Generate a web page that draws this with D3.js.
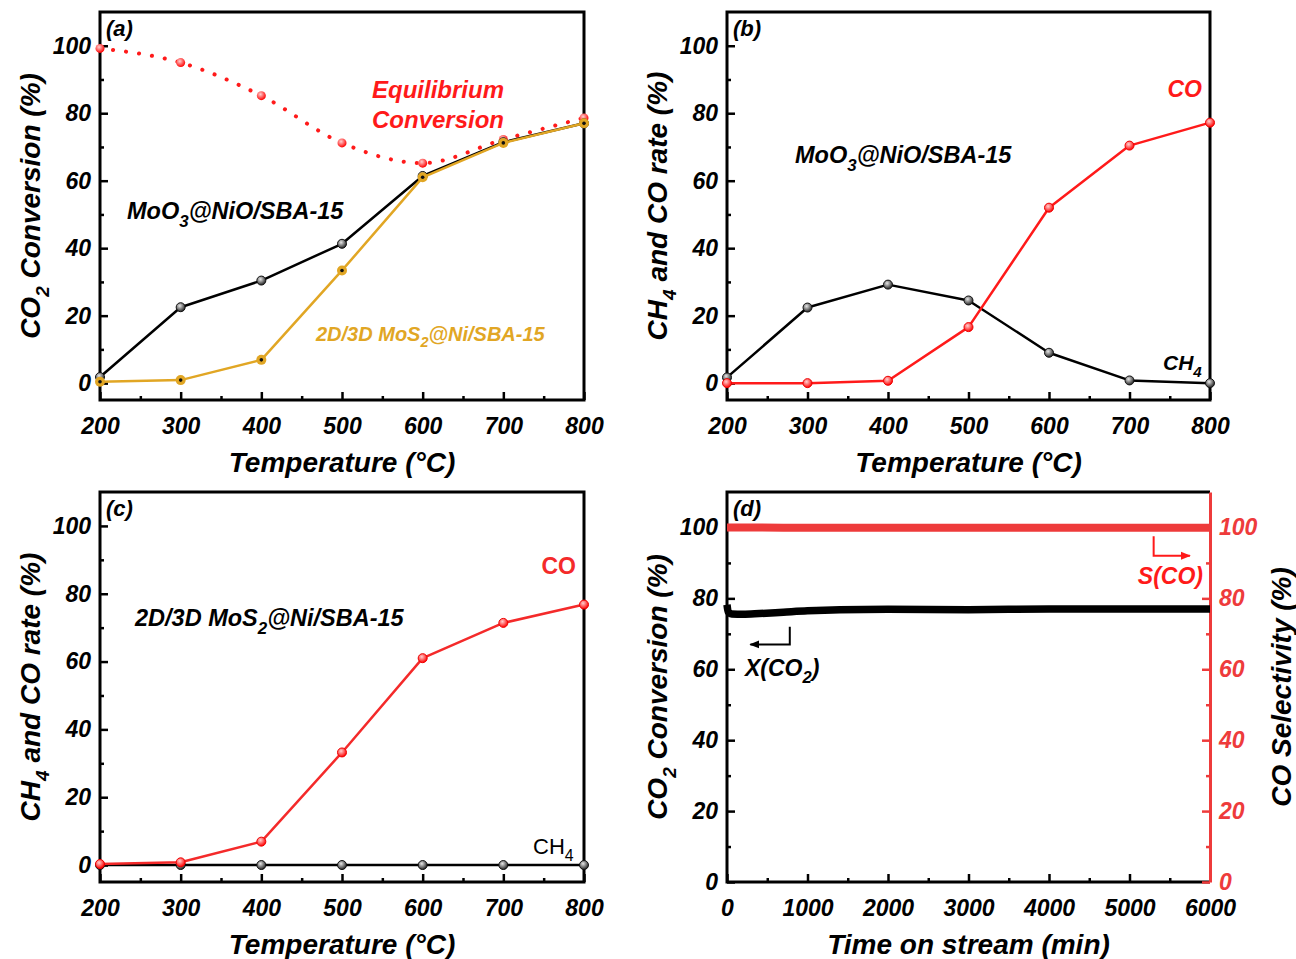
<!DOCTYPE html>
<html>
<head>
<meta charset="utf-8">
<script src="https://cdn.jsdelivr.net/npm/d3@7"></script>
<style>
  body { margin: 0; background: #fff; }
  text { font-family: "Liberation Sans", Arial, sans-serif; }
</style>
</head>
<body>
<div id="fig"></div>
<script>
// ---- data ----
const temps = [200, 300, 400, 500, 600, 700, 800];

// (a) CO2 conversion
const equilibrium = [99.2, 95, 85.2, 71.2, 65.2, 72.2, 78.6];
const moo3Conv = [1.8, 22.5, 30.4, 41.3, 61.4, 71.4, 77];
const mos2Conv = [0.4, 0.9, 6.9, 33.4, 61, 71.2, 77];

// (b) MoO3@NiO/SBA-15 rates
const moo3CH4 = [1.7, 22.4, 29.2, 24.5, 9, 0.8, 0];
const moo3CO = [0, 0, 0.7, 16.6, 52, 70.4, 77.2];

// (c) 2D/3D MoS2@Ni/SBA-15 rates
const mos2CO = [0.3, 0.8, 6.9, 33.2, 61, 71.4, 76.8];
const mos2CH4 = [0, 0, 0, 0, 0, 0, 0];

// (d) stability test
const tos = [0, 15, 60, 200, 400, 700, 1000, 1400, 2000, 3000, 4000, 5000, 6000];
const xCO2 = [78.2, 76.2, 75.6, 75.5, 75.7, 76.1, 76.5, 76.8, 76.9, 76.8, 77, 77, 77];
const sCO = [100, 100, 100, 100, 100, 99.9, 99.9, 99.9, 99.9, 99.9, 99.9, 99.9, 99.9];

const yTicks = [0, 20, 40, 60, 80, 100];
const tempTicks = [200, 300, 400, 500, 600, 700, 800];
const timeTicks = [0, 1000, 2000, 3000, 4000, 5000, 6000];

const RED = "#ff1a1a";
const ORANGE = "#e1a624";
const TICK_FS = 23, TITLE_FS = 28;

const svg = d3.select("#fig").append("svg")
    .attr("width", 1296).attr("height", 959);

// gradients for the ball-like markers
const defs = svg.append("defs");
function ball(id, c0, c1){
    const g = defs.append("radialGradient").attr("id", id)
        .attr("cx", "40%").attr("cy", "35%").attr("r", "65%");
    g.append("stop").attr("offset", "0%").attr("stop-color", c0);
    g.append("stop").attr("offset", "100%").attr("stop-color", c1);
}
ball("ballK", "#e8e8e8", "#222");
ball("ballR", "#ffd0d0", "#ff0000");

// text with subscripts: parts = [[str, isSub], ...]
function rich(sel, parts, subSize){
    parts.forEach(([s, sub], i) => {
        const t = sel.append("tspan").text(s);
        if (sub) t.attr("dy", subSize * 0.45).attr("font-size", subSize);
        else if (i > 0 && parts[i-1][1]) t.attr("dy", -subSize * 0.45);
    });
    return sel;
}

function styleTicks(a, color){
    a.selectAll("text").attr("font-size", TICK_FS).attr("font-weight", "bold")
        .attr("font-style", "italic").attr("fill", color || "#000");
}

function panel(o){
    const g = svg.append("g");
    const x = d3.scaleLinear().domain(o.xDomain).range([o.left, o.right]);
    const y = d3.scaleLinear().domain(o.yDomain).range([o.bottom, o.top]);

    // minor ticks (inward)
    const minorX = d3.range(o.xDomain[0] + o.xStep/2, o.xDomain[1], o.xStep);
    const minorY = d3.range(o.yTicks[0] + 10, o.yDomain[1], 20);

    g.append("g").attr("transform", `translate(0,${o.bottom})`)
        .call(d3.axisBottom(x).tickValues(o.xTicks).tickFormat(d3.format("d"))
            .tickSizeInner(-8).tickSizeOuter(0).tickPadding(12))
        .call(a => a.select(".domain").remove())
        .call(a => a.selectAll("line").attr("stroke-width", 2.5))
        .call(a => styleTicks(a))
        .call(a => a.selectAll("text").attr("dy", "0.95em"));
    g.append("g").attr("transform", `translate(0,${o.bottom})`)
        .call(d3.axisBottom(x).tickValues(minorX).tickSizeInner(-4).tickSizeOuter(0).tickFormat(""))
        .call(a => a.select(".domain").remove())
        .call(a => a.selectAll("line").attr("stroke-width", 2.5));

    g.append("g").attr("transform", `translate(${o.left},0)`)
        .call(d3.axisLeft(y).tickValues(o.yTicks).tickSizeInner(-8).tickSizeOuter(0).tickPadding(9))
        .call(a => a.select(".domain").remove())
        .call(a => a.selectAll("line").attr("stroke-width", 2.5))
        .call(a => styleTicks(a));
    g.append("g").attr("transform", `translate(${o.left},0)`)
        .call(d3.axisLeft(y).tickValues(minorY).tickSizeInner(-4).tickSizeOuter(0).tickFormat(""))
        .call(a => a.select(".domain").remove())
        .call(a => a.selectAll("line").attr("stroke-width", 2.5));

    // frame
    g.append("path")
        .attr("d", `M${o.right},${o.top}H${o.left}V${o.bottom}H${o.right}` + (o.rightAxis ? "" : "Z"))
        .attr("fill", "none").attr("stroke", "#000").attr("stroke-width", 3);

    // titles
    g.append("text").attr("x", (o.left + o.right)/2).attr("y", o.bottom + 72)
        .attr("text-anchor", "middle").attr("font-size", TITLE_FS).attr("font-weight", "bold")
        .attr("font-style", "italic").text(o.xTitle);
    const yt = g.append("text")
        .attr("transform", `translate(${o.left - 60},${(o.top + o.bottom)/2}) rotate(-90)`)
        .attr("text-anchor", "middle").attr("font-size", TITLE_FS).attr("font-weight", "bold")
        .attr("font-style", "italic");
    rich(yt, o.yTitle, 19);

    g.append("text").attr("x", o.left + 6).attr("y", o.top + 24)
        .attr("font-family", "Liberation Serif, Times New Roman, serif")
        .attr("font-size", 22).attr("font-weight", "bold").attr("font-style", "italic")
        .text(o.tag);

    return {g, x, y};
}

function series(p, xs, ys, color, opts = {}){
    const pts = xs.map((d, i) => [d, ys[i]]);
    const line = d3.line().x(d => p.x(d[0])).y(d => p.y(d[1]));
    if (opts.curve) line.curve(opts.curve);
    const path = p.g.append("path").datum(pts)
        .attr("fill", "none").attr("stroke", color)
        .attr("stroke-width", opts.width || 2.5)
        .attr("stroke-linejoin", "round")
        .attr("d", line);
    if (opts.dash) path.attr("stroke-dasharray", opts.dash).attr("stroke-linecap", "round");
    if (opts.marker === "ballK" || opts.marker === "ballR") {
        p.g.selectAll(null).data(pts).join("circle")
            .attr("cx", d => p.x(d[0])).attr("cy", d => p.y(d[1])).attr("r", opts.r || 4.5)
            .attr("fill", `url(#${opts.marker})`)
            .attr("stroke", opts.marker === "ballK" ? "#111" : "#e00").attr("stroke-width", 1);
    } else if (opts.marker === "dot") {
        p.g.selectAll(null).data(pts).join("circle")
            .attr("cx", d => p.x(d[0])).attr("cy", d => p.y(d[1])).attr("r", 5)
            .attr("fill", color);
        p.g.selectAll(null).data(pts).join("circle")
            .attr("cx", d => p.x(d[0])).attr("cy", d => p.y(d[1])).attr("r", 1.8)
            .attr("fill", "#111");
    }
}

function label(p, xp, yp, parts, color, size, opts = {}){
    const t = p.g.append("text").attr("x", xp).attr("y", yp)
        .attr("font-size", size).attr("font-weight", opts.weight || "bold")
        .attr("font-style", opts.style || "italic").attr("fill", color)
        .attr("text-anchor", opts.anchor || "start");
    rich(t, parts, size * 0.72);
    return t;
}

const tempX = {xDomain: [200, 800], xTicks: tempTicks, xStep: 100, yDomain: [-5, 110], yTicks: yTicks,
    xTitle: "Temperature (°C)"};

// ---- (a) ----
const pa = panel(Object.assign({}, tempX, {left: 100, right: 584, top: 12, bottom: 400, tag: "(a)",
    yTitle: [["CO", 0], ["2", 1], [" Conversion (%)", 0]]}));
series(pa, temps, equilibrium, RED, {curve: d3.curveMonotoneX, dash: "0.1 13", width: 4});
pa.g.selectAll(null).data(temps).join("circle")
    .attr("cx", d => pa.x(d)).attr("cy", (d, i) => pa.y(equilibrium[i])).attr("r", 4.5)
    .attr("fill", "url(#ballR)");
series(pa, temps, moo3Conv, "#000", {marker: "ballK"});
series(pa, temps, mos2Conv, ORANGE, {marker: "dot"});
label(pa, 438, 98, [["Equilibrium", 0]], RED, 24, {anchor: "middle"});
label(pa, 438, 128, [["Conversion", 0]], RED, 24, {anchor: "middle"});
label(pa, 127, 219, [["MoO", 0], ["3", 1], ["@NiO/SBA-15", 0]], "#000", 23.5);
label(pa, 316, 341, [["2D/3D MoS", 0], ["2", 1], ["@Ni/SBA-15", 0]], ORANGE, 20);

// ---- (b) ----
const pb = panel(Object.assign({}, tempX, {left: 727, right: 1210, top: 12, bottom: 400, tag: "(b)",
    yTitle: [["CH", 0], ["4", 1], [" and CO rate (%)", 0]]}));
series(pb, temps, moo3CH4, "#000", {marker: "ballK"});
series(pb, temps, moo3CO, RED, {marker: "ballR"});
label(pb, 1202, 97, [["CO", 0]], RED, 23, {anchor: "end"});
label(pb, 795, 163, [["MoO", 0], ["3", 1], ["@NiO/SBA-15", 0]], "#000", 23.5);
label(pb, 1163, 370, [["CH", 0], ["4", 1]], "#000", 21);

// ---- (c) ----
const pc = panel(Object.assign({}, tempX, {left: 100, right: 584, top: 492, bottom: 882, tag: "(c)",
    yTitle: [["CH", 0], ["4", 1], [" and CO rate (%)", 0]]}));
series(pc, temps, mos2CH4, "#000", {marker: "ballK"});
series(pc, temps, mos2CO, "#f42a2a", {marker: "ballR"});
label(pc, 576, 574, [["CO", 0]], "#f42a2a", 23, {anchor: "end", style: "normal"});
label(pc, 135, 626, [["2D/3D MoS", 0], ["2", 1], ["@Ni/SBA-15", 0]], "#000", 23.5);
label(pc, 533, 854, [["CH", 0], ["4", 1]], "#000", 22, {style: "normal", weight: "normal"});

// ---- (d) ----
const pd = panel({left: 727, right: 1210, top: 492, bottom: 882, tag: "(d)",
    xDomain: [0, 6000], xTicks: timeTicks, xStep: 1000, yDomain: [0, 110], yTicks: yTicks,
    xTitle: "Time on stream (min)", rightAxis: true,
    yTitle: [["CO", 0], ["2", 1], [" Conversion (%)", 0]]});
const DRED = "#ee3b3b";
const yR = d3.scaleLinear().domain([0, 110]).range([882, 492]);
pd.g.append("g").attr("transform", "translate(1210,0)")
    .call(d3.axisRight(yR).tickValues(yTicks).tickSizeInner(-8).tickSizeOuter(0).tickPadding(9))
    .call(a => a.select(".domain").attr("stroke", DRED).attr("stroke-width", 3))
    .call(a => a.selectAll("line").attr("stroke", DRED).attr("stroke-width", 2.5))
    .call(a => styleTicks(a, DRED));
pd.g.append("g").attr("transform", "translate(1210,0)")
    .call(d3.axisRight(yR).tickValues(d3.range(10, 110, 20)).tickSizeInner(-4).tickSizeOuter(0).tickFormat(""))
    .call(a => a.select(".domain").remove())
    .call(a => a.selectAll("line").attr("stroke", DRED).attr("stroke-width", 2.5));
pd.g.append("text")
    .attr("transform", "translate(1291,687) rotate(-90)")
    .attr("text-anchor", "middle").attr("font-size", TITLE_FS).attr("font-weight", "bold")
    .attr("font-style", "italic").text("CO Selectivity (%)");

pd.g.append("path").datum(tos.map((t, i) => [t, sCO[i]]))
    .attr("fill", "none").attr("stroke", DRED).attr("stroke-width", 8)
    .attr("d", d3.line().x(d => pd.x(d[0])).y(d => yR(d[1])));
series(pd, tos, xCO2, "#000", {width: 7.5, curve: d3.curveMonotoneX});

// arrows
defs.append("marker").attr("id", "arrK").attr("viewBox", "0 0 10 10").attr("refX", 9).attr("refY", 5)
    .attr("markerWidth", 5).attr("markerHeight", 5).attr("orient", "auto")
    .append("path").attr("d", "M0,1L10,5L0,9Z").attr("fill", "#000");
defs.append("marker").attr("id", "arrR").attr("viewBox", "0 0 10 10").attr("refX", 9).attr("refY", 5)
    .attr("markerWidth", 5).attr("markerHeight", 5).attr("orient", "auto")
    .append("path").attr("d", "M0,1L10,5L0,9Z").attr("fill", RED);
pd.g.append("path").attr("d", `M${pd.x(780)},${pd.y(72)}V${pd.y(67)}H${pd.x(290)}`)
    .attr("fill", "none").attr("stroke", "#000").attr("stroke-width", 2).attr("marker-end", "url(#arrK)");
pd.g.append("path").attr("d", `M${pd.x(5300)},${pd.y(97.5)}V${pd.y(92)}H${pd.x(5750)}`)
    .attr("fill", "none").attr("stroke", RED).attr("stroke-width", 2).attr("marker-end", "url(#arrR)");
label(pd, 745, 676, [["X(CO", 0], ["2", 1], [")", 0]], "#000", 23);
label(pd, 1203, 584, [["S(CO)", 0]], RED, 23, {anchor: "end"});
</script>
</body>
</html>
